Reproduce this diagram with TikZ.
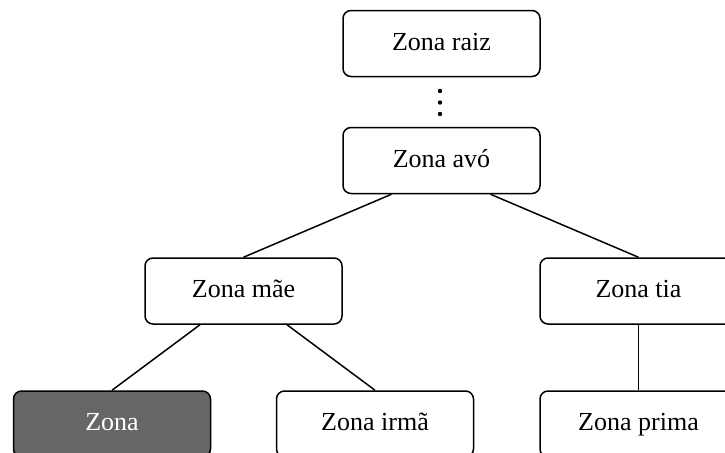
\documentclass[tikz,border=0pt]{standalone}
\usepackage{fontspec}
\setmainfont{Liberation Serif}
\usepackage{tikz}
\usetikzlibrary{positioning}

\begin{document}
\begin{tikzpicture}[x=0.5pt, y=-0.5pt, line width=0.75pt,
  zona/.style={draw, rounded corners=4pt, minimum width=98.5pt,
    minimum height=33pt, inner sep=0pt, text height=0.75em, text depth=0.1em,
    font=\fontsize{13}{15}\selectfont},
  atual/.style={zona, fill=black!60, text=white},
  ponto/.style={fill, circle, inner sep=0pt, minimum size=2.2pt}]
\useasboundingbox (0,0) rectangle (725,452);
\node[zona] (raiz) at (441.5,43.5) {Zona raiz};
\node[zona] (avo) at (441.5,160.5) {Zona avó};
\node[zona] (mae) at (243.5,291) {Zona mãe};
\node[zona] (tia) at (638.5,291) {Zona tia};
\node[atual] (atual) at (112,424) {Zona};
\node[zona] (irma) at (375,424) {Zona irmã};
\node[zona] (prima) at (638.5,424) {Zona prima};
% reticencias entre raiz e avo
\node[ponto] (p1) at (440,91) {};
\node[ponto, below=2.8pt of p1] (p2) {};
\node[ponto, below=2.8pt of p2] (p3) {};
\draw ([xshift=-25pt]avo.south) -- (mae.north);
\draw ([xshift=24.5pt]avo.south) -- (tia.north);
\draw ([xshift=-21.75pt]mae.south) -- (atual.north);
\draw ([xshift=21.75pt]mae.south) -- (irma.north);
\draw (tia.south) -- (prima.north);
\end{tikzpicture}
\end{document}
